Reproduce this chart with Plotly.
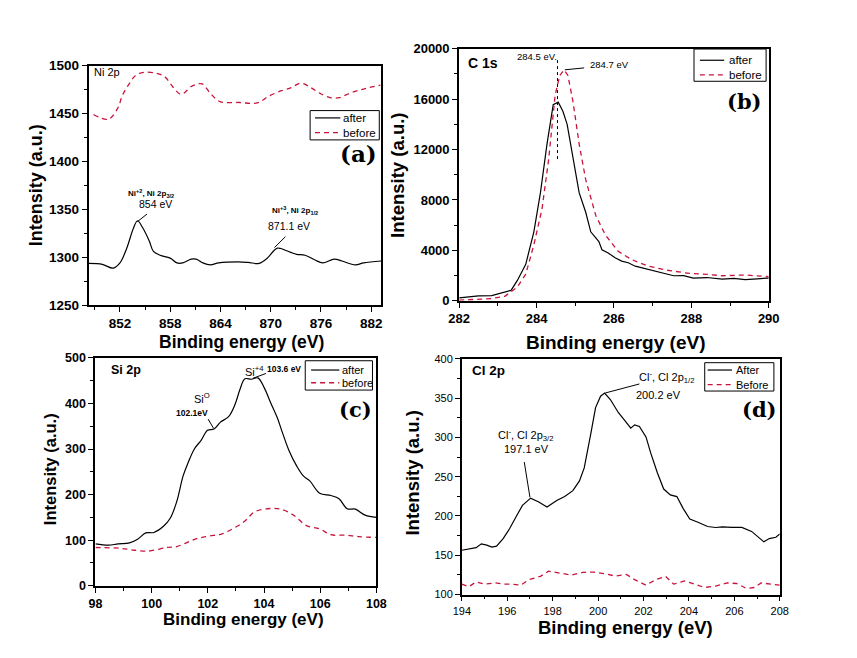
import plotly.graph_objects as go

W, H = 857, 658
ARIAL = "Arial, 'Liberation Sans', sans-serif"
SERIF = "'DejaVu Serif', serif"
RED = "#c8143c"

# ---------------- data ----------------
# (a) Ni 2p
ni_after_x = [848.3, 849.9, 851.2, 852.0, 852.8, 853.6, 854.1, 854.7, 855.5, 856.0, 856.8, 858.0, 858.8, 859.5,
              860.5, 861.1, 861.9, 862.8, 863.8, 866.1, 867.3, 868.6, 869.6, 870.4, 870.8, 871.2, 872.4, 873.1,
              874.1, 875.3, 876.2, 877.6, 878.5, 880.1, 881.1, 883.2]
ni_after_y = [1293.5, 1292.5, 1288.5, 1294, 1309, 1330, 1338, 1331, 1317, 1306, 1302, 1299, 1294, 1294,
              1298, 1298, 1294, 1292, 1294, 1295, 1294.5, 1293.5, 1299, 1307, 1309.5, 1309, 1305, 1303,
              1302, 1297, 1294, 1298, 1296, 1292, 1294, 1296]
ni_before_x = [848.85, 850.6, 851.75, 852.3, 853.1, 853.9, 854.85, 856.4, 857.4, 858.3, 859.3, 860.6, 861.8,
               862.8, 863.95, 866.3, 868.4, 869.75, 871.3, 872.45, 873.6, 874.8, 875.9, 877.1, 878.2, 879.4,
               880.6, 881.7, 883.1]
ni_before_y = [1449, 1444, 1455.8, 1469, 1481, 1490, 1493, 1492, 1488, 1478, 1470, 1478.6, 1481,
               1471, 1462.5, 1461.5, 1461, 1468, 1473.8, 1477, 1481.7, 1477, 1471, 1466.6, 1466.6, 1471,
               1474.5, 1477, 1479.6]

# (b) C 1s
c_after_x = [282.0, 282.25, 282.5, 282.84, 283.09, 283.34, 283.5, 283.72, 283.93, 284.1, 284.27, 284.43,
             284.56, 284.68, 284.79, 284.94, 285.1, 285.27, 285.4, 285.61, 285.69, 285.85, 286.03, 286.2,
             286.37, 286.55, 286.7, 286.87, 287.04, 287.3, 287.54, 287.8, 288.05, 288.4, 288.8, 289.1,
             289.39, 289.7, 290.0]
c_after_y = [232, 300, 388, 413, 620, 827, 1600, 2894, 5478, 8579, 12455, 15555,
             15762, 15039, 14005, 11420, 8579, 7028, 5478, 4703, 4057, 3800, 3411, 3150,
             3023, 2750, 2636, 2450, 2326, 2150, 1990, 2000, 1809, 1850, 1731, 1780,
             1680, 1750, 1809]
c_before_x = [282.0, 282.5, 282.84, 283.18, 283.5, 283.72, 283.93, 284.14, 284.31, 284.48, 284.6, 284.71,
              284.81, 284.94, 285.1, 285.27, 285.53, 285.78, 286.11, 286.45, 286.87, 287.37, 287.96,
              288.4, 288.8, 289.4, 290.0]
c_before_y = [52, 130, 180, 362, 1085, 2119, 4444, 7287, 11163, 16331, 17881, 18320,
              17881, 15814, 12455, 9612, 6770, 5220, 3928, 3282, 2765, 2429, 2171,
              2100, 1990, 2050, 1912]

# (c) Si 2p
si_after_x = [98.0, 98.46, 98.81, 99.21, 99.5, 99.79, 100.08, 100.43, 100.66, 100.89, 101.12, 101.29,
              101.53, 101.76, 101.99, 102.22, 102.45, 102.74, 102.97, 103.14, 103.32, 103.55, 103.78,
              104.01, 104.24, 104.47, 104.65, 104.88, 105.17, 105.4, 105.63, 105.98, 106.38, 106.67,
              106.96, 107.25, 107.6, 108.0]
si_after_y = [92, 89, 92, 94, 102, 116, 117, 131, 148, 184, 241, 269,
              301, 319, 341, 344, 359, 371, 398, 430, 454, 453, 456,
              434, 401, 369, 337, 298, 262, 241, 230, 203, 198, 191,
              169, 168, 155, 150]
si_before_x = [98.0, 98.92, 99.27, 99.85, 100.54, 100.89, 101.29, 101.64, 102.05, 102.51, 102.97, 103.32,
               103.66, 104.13, 104.59, 105.05, 105.51, 105.98, 106.38, 106.9, 107.36, 108.0]
si_before_y = [84, 82, 79, 76, 84, 86, 96, 104, 109, 114, 128, 142,
               162, 169, 168, 155, 132, 125, 112, 111, 108, 106]

# (d) Cl 2p
cl_after_x = [194.0, 194.31, 194.63, 194.86, 195.1, 195.32, 195.53, 195.82, 196.1, 196.39, 196.67, 197.03,
              197.39, 197.75, 198.18, 198.53, 198.89, 199.18, 199.39, 199.68, 199.89, 200.11, 200.29,
              200.54, 200.89, 201.18, 201.44, 201.61, 201.82, 202.11, 202.32, 202.61, 202.89, 203.18,
              203.47, 203.75, 204.04, 204.4, 204.82, 205.18, 205.47, 205.9, 206.33, 206.76, 207.04,
              207.3, 207.54, 207.83, 208.0]
cl_after_y = [156.4, 158.4, 159.7, 164.6, 163, 160.5, 161.7, 171.3, 183.7, 199, 213.5, 222.7,
              217.7, 211.5, 219.8, 224.7, 232.2, 244.6, 261.2, 304.7, 337.9, 352.4, 356.5,
              348.2, 331.7, 321.3, 311.8, 315.9, 313.8, 300.6, 279.9, 255, 234.3, 226.8,
              224.7, 209.4, 196.1, 192, 186.6, 185.4, 186.2, 185.4, 185.4, 180.4, 172.9,
              167.1, 171.3, 172.9, 177.1]
cl_before_x = [194.0, 194.31, 194.63, 195.03, 195.46, 195.82, 196.17, 196.6, 196.96, 197.46, 197.82, 198.32,
               198.82, 199.32, 199.82, 200.32, 200.75, 201.25, 201.61, 202.11, 202.54, 202.97, 203.33,
               203.82, 204.32, 204.68, 205.18, 205.68, 206.1, 206.53, 206.9, 207.18, 207.61, 208.0]
cl_before_y = [113.3, 110, 116.2, 113.3, 114.9, 113.3, 113.3, 112, 119, 123.2, 129.8, 127.4,
               124.9, 128.2, 128.6, 126.5, 123.6, 125.7, 119, 112, 119, 123.2, 113.3,
               117.4, 112, 109.1, 110.8, 114.9, 114.1, 107.9, 109.1, 114.9, 113.3, 112]

after_names = ["after", "after", "after", "After"]
before_names = ["before", "before", "before", "Before"]

# ---------------- layout helpers ----------------
def px_x(p):
    return p / W

def px_y(p):
    return 1 - p / H

def axis(dom, rng, tick0, dtick, mdtick, font, lw, anchor, fmt="d"):
    return dict(domain=dom, range=rng, tick0=tick0, dtick=dtick, tickformat=fmt,
                ticks="outside", ticklen=5, tickwidth=1.2, tickcolor="black",
                showline=True, linecolor="black", linewidth=lw, mirror=True,
                showgrid=False, zeroline=False, tickfont=font, anchor=anchor,
                fixedrange=True,
                minor=dict(ticks="outside", ticklen=3, tickwidth=1, dtick=mdtick,
                           tickcolor="black", showgrid=False))

fa = dict(family=ARIAL, size=13.5, color="black", weight="bold")
fb = dict(family=ARIAL, size=13, color="black", weight="bold")
fc = dict(family=ARIAL, size=12.5, color="black", weight="bold")
fd = dict(family=ARIAL, size=11, color="black")

fig = go.Figure()

DASH = "5px,4px"
panels = [
    (ni_after_x, ni_after_y, ni_before_x, ni_before_y, "x", "y", "spline"),
    (c_after_x, c_after_y, c_before_x, c_before_y, "x2", "y2", "linear"),
    (si_after_x, si_after_y, si_before_x, si_before_y, "x3", "y3", "spline"),
    (cl_after_x, cl_after_y, cl_before_x, cl_before_y, "x4", "y4", "linear"),
]
for i, (ax_, ay_, bx_, by_, xa, ya, shp) in enumerate(panels):
    fig.add_trace(go.Scatter(x=ax_, y=ay_, mode="lines", name=after_names[i], xaxis=xa, yaxis=ya,
                             showlegend=False,
                             line=dict(color="black", width=1.2, shape=shp)))
    fig.add_trace(go.Scatter(x=bx_, y=by_, mode="lines", name=before_names[i], xaxis=xa, yaxis=ya,
                             showlegend=False,
                             line=dict(color=RED, width=1.3, dash=DASH, shape=shp)))

fig.update_layout(
    width=W, height=H, margin=dict(l=0, r=0, t=0, b=0),
    paper_bgcolor="white", plot_bgcolor="white", showlegend=False,
    xaxis=axis([px_x(80), px_x(380)], [848.3, 883.2], 852, 6, 3, fa, 2.2, "y"),
    yaxis=axis([px_y(305), px_y(60)], [1250, 1500], 1250, 50, 25, fa, 2.2, "x"),
    xaxis2=axis([px_x(460), px_x(777.7)], [282, 290], 282, 2, 1, fb, 2, "y2"),
    yaxis2=axis([px_y(300.7), px_y(42.7)], [0, 20000], 0, 4000, 2000, fb, 2, "x2"),
    xaxis3=axis([px_x(86.7), px_x(375)], [98, 108], 98, 2, 1, fc, 2, "y3"),
    yaxis3=axis([px_y(592.3), px_y(359)], [0, 500], 0, 100, 50, fc, 2, "x3"),
    xaxis4=axis([px_x(462.7), px_x(789)], [194, 208], 194, 2, 1, fd, 1.5, "y4"),
    yaxis4=axis([px_y(601.3), px_y(360)], [100, 400], 100, 50, 25, fd, 1.5, "x4"),
)

anns = []
shapes = []

def paper_text(text, x, y, size, bold=True, angle=0, xanchor="center", family=ARIAL):
    anns.append(dict(text=text, x=px_x(x), y=px_y(y), xref="paper", yref="paper",
                     showarrow=False, textangle=angle, xanchor=xanchor, yanchor="middle",
                     font=dict(family=family, size=size, color="black",
                               weight="bold" if bold else "normal")))

# axis titles
paper_text("Intensity (a.u.)", 26, 182, 18, angle=-90)
paper_text("Binding energy (eV)", 237, 343, 17.5)
paper_text("Intensity (a.u.)", 396, 172, 18.5, angle=-90)
paper_text("Binding energy (eV)", 620, 343, 19)
paper_text("Intensity (a.u.)", 40, 473, 16.5, angle=-90)
paper_text("Binding energy (eV)", 239, 627, 17)
paper_text("Intensity (a.u.)", 412, 477, 18.5, angle=-90)
paper_text("Binding energy (eV)", 631, 635, 18.5)

# inner element labels
paper_text("Ni 2p", 83, 67, 11, bold=False, xanchor="left")
paper_text("C 1s", 467, 57, 14, xanchor="left")
paper_text("Si 2p", 101, 371, 12.5, xanchor="left")
paper_text("Cl 2p", 471, 372, 13.5, xanchor="left")

# panel letters
paper_text("(a)", 378, 150, 23, xanchor="right", family=SERIF)
paper_text("(b)", 773, 97, 21, xanchor="right", family=SERIF)
paper_text("(c)", 373, 412, 21, xanchor="right", family=SERIF)
paper_text("(d)", 788, 412, 21, xanchor="right", family=SERIF)

# legends (box, sample lines, labels) in page pixels
def legend_box(x0, y0, x1, y1, s0, s1, tx, r1, r2, n1, n2, size):
    shapes.append(dict(type="rect", xref="paper", yref="paper",
                       x0=px_x(x0), x1=px_x(x1), y0=px_y(y1), y1=px_y(y0),
                       line=dict(color="black", width=1), fillcolor="white", layer="above"))
    shapes.append(dict(type="line", xref="paper", yref="paper",
                       x0=px_x(s0), x1=px_x(s1), y0=px_y(r1), y1=px_y(r1),
                       line=dict(color="black", width=1.2), layer="above"))
    shapes.append(dict(type="line", xref="paper", yref="paper",
                       x0=px_x(s0), x1=px_x(s1), y0=px_y(r2), y1=px_y(r2),
                       line=dict(color=RED, width=1.3, dash=DASH), layer="above"))
    for t, r in ((n1, r1), (n2, r2)):
        anns.append(dict(text=t, x=px_x(tx), y=px_y(r), xref="paper", yref="paper",
                         showarrow=False, xanchor="left", yanchor="middle",
                         font=dict(family=ARIAL, size=size, color="black")))

legend_box(307, 106, 378, 136, 312, 338, 339, 113.5, 128.5, after_names[0], before_names[0], 11.5)
legend_box(701, 43, 775, 76, 707, 732, 735, 54.5, 69.5, after_names[1], before_names[1], 11.5)
legend_box(302, 362, 371, 392, 308, 337, 338, 371.5, 384.5, after_names[2], before_names[2], 11)
legend_box(712, 364, 783, 393, 715, 740, 742, 371.5, 386.5, after_names[3], before_names[3], 11)

def data_text(text, x, y, xa, ya, size, bold=False, xanchor="center"):
    anns.append(dict(text=text, x=x, y=y, xref=xa, yref=ya, showarrow=False,
                     xanchor=xanchor, yanchor="middle",
                     font=dict(family=ARIAL, size=size, color="black",
                               weight="bold" if bold else "normal")))

# (a)
data_text("Ni<sup>+2</sup>, Ni 2p<sub>3/2</sub>", 855.7, 1367, "x", "y", 8, bold=True)
data_text("854 eV", 856.2, 1355, "x", "y", 10.5)
data_text("Ni<sup>+3</sup>, Ni 2p<sub>1/2</sub>", 872.9, 1349, "x", "y", 8, bold=True)
data_text("871.1 eV", 872.2, 1333, "x", "y", 10.5)
# (b)
data_text("284.5 eV.", 284.57, 19380, "x2", "y2", 9.5, xanchor="right")
data_text("284.7 eV", 285.33, 18713, "x2", "y2", 9.5, xanchor="left")
# (c)
data_text("Si<sup>O</sup>", 101.78, 412, "x3", "y3", 11)
data_text("102.1eV", 101.44, 380, "x3", "y3", 8.5, bold=True)
data_text("Si<sup>+4</sup>", 103.66, 470, "x3", "y3", 11)
data_text("103.6 eV", 104.7, 476, "x3", "y3", 8.5, bold=True)
# (d)
data_text("Cl<sup>-</sup>, Cl 2p<sub>1/2</sub>", 203.03, 377, "x4", "y4", 11)
data_text("200.2 eV", 202.64, 354, "x4", "y4", 11)
data_text("Cl<sup>-</sup>, Cl 2p<sub>3/2</sub>", 196.82, 303, "x4", "y4", 11)
data_text("197.1 eV", 196.85, 285, "x4", "y4", 11)

# pointer lines
def seg(x0, y0, x1, y1, xa, ya, dash="solid", width=1):
    shapes.append(dict(type="line", x0=x0, y0=y0, x1=x1, y1=y1, xref=xa, yref=ya,
                       line=dict(color="black", width=width, dash=dash)))

seg(854.07, 1337, 855.23, 1345, "x", "y")
seg(870.45, 1310, 871.76, 1321.4, "x", "y")
seg(284.73, 18326, 285.23, 18481, "x2", "y2")
seg(284.54, 19100, 284.54, 11050, "x2", "y2", dash="dot")
seg(102.2, 345.7, 102.01, 365.6, "x3", "y3")
seg(103.6, 455, 104.07, 465.7, "x3", "y3")
seg(200.32, 356.5, 201.82, 368, "x4", "y4")
seg(196.75, 268.6, 197.0, 223.8, "x4", "y4")

fig.update_layout(annotations=anns, shapes=shapes)

fig.write_html("out.html")
